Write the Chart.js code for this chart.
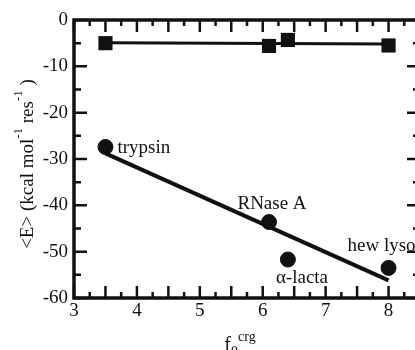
<!DOCTYPE html>
<html>
<head>
<meta charset="utf-8">
<script src="https://cdn.jsdelivr.net/npm/chart.js@4"></script>
<style>
    html, body { margin: 0; padding: 0; background: #fff; overflow: hidden; }
    #chart { display: block; }
</style>
</head>
<body>
<canvas id="chart" width="430" height="350"></canvas>
<script>
// Data
const proteins = ['trypsin', 'RNase A', '\u03b1-lacta', 'hew lysozyme'];
const fCrg = [3.5, 6.1, 6.4, 8.0];
const eSquares = [-5.0, -5.6, -4.3, -5.5];
const eCircles = [-27.4, -43.6, -51.7, -53.5];

// Fitted lines (endpoints)
const fitX = [3.5, 8.0];
const fitSquares = [-4.9, -5.2];
const fitCircles = [-28.8, -56.2];

// Axes
const xTickLabels = [3, 4, 5, 6, 7, 8];
const yTickLabels = [0, -10, -20, -30, -40, -50, -60];
const xRange = [3, 8.5];
const yRange = [-60, 0];

const FONT = '"Liberation Serif", "Times New Roman", serif';
const INK = '#111';

const toPoints = (xs, ys) => xs.map((x, i) => ({ x, y: ys[i] }));

// Label offsets relative to each circle marker
const labelOffsets = [
    { dx: 12, dy: 6, align: 'left' },
    { dx: 3, dy: -13, align: 'center' },
    { dx: -12, dy: 23, align: 'left' },
    { dx: -41, dy: -17, align: 'left' }
];

// Draw a run of text pieces with sizes and vertical shifts
function drawRich(ctx, parts, x, y, align) {
    let total = 0;
    parts.forEach(p => {
        ctx.font = p.size + 'px ' + FONT;
        p.w = ctx.measureText(p.t).width;
        total += p.w;
    });
    let cx = align === 'center' ? x - total / 2 : x;
    ctx.textAlign = 'left';
    ctx.textBaseline = 'alphabetic';
    parts.forEach(p => {
        ctx.font = p.size + 'px ' + FONT;
        ctx.fillText(p.t, cx, y + (p.dy || 0));
        cx += p.w;
    });
}

const framePlugin = {
    id: 'frame',
    afterDatasetsDraw(chart) {
        const { ctx, chartArea: a, scales: { x, y } } = chart;
        ctx.save();
        ctx.strokeStyle = INK;
        ctx.lineWidth = 2.5;
        ctx.beginPath();
        // x ticks every 0.25, longer every 0.5
        for (let v = xRange[0]; v <= xRange[1] + 1e-6; v += 0.25) {
            const px = x.getPixelForValue(v);
            const len = Math.abs(v * 2 - Math.round(v * 2)) < 1e-6 ? 12 : 6;
            ctx.moveTo(px, a.bottom); ctx.lineTo(px, a.bottom - len);
            ctx.moveTo(px, a.top); ctx.lineTo(px, a.top + len);
        }
        // y ticks every 5, longer every 10
        for (let v = yRange[0]; v <= yRange[1] + 1e-6; v += 5) {
            const py = y.getPixelForValue(v);
            const len = v % 10 === 0 ? 13 : 7;
            ctx.moveTo(a.left, py); ctx.lineTo(a.left + len, py);
            ctx.moveTo(a.right, py); ctx.lineTo(a.right - len, py);
        }
        ctx.stroke();
        ctx.lineWidth = 3.5;
        ctx.strokeRect(a.left, a.top, a.right - a.left, a.bottom - a.top);

        // protein labels next to the circles
        ctx.fillStyle = INK;
        const meta = chart.getDatasetMeta(1);
        meta.data.forEach((pt, i) => {
            const o = labelOffsets[i];
            ctx.font = '19px ' + FONT;
            ctx.textAlign = o.align;
            ctx.textBaseline = 'alphabetic';
            ctx.fillText(proteins[i], pt.x + o.dx, pt.y + o.dy);
        });

        // axis titles
        drawRich(ctx, [
            { t: 'f', size: 20 },
            { t: '0', size: 14, dy: 5 },
            { t: 'crg', size: 14, dy: -10 }
        ], 240, 351, 'center');

        ctx.translate(33, 164);
        ctx.rotate(-Math.PI / 2);
        drawRich(ctx, [
            { t: '<E> (kcal mol', size: 19 },
            { t: '-1', size: 13, dy: -11 },
            { t: ' res', size: 19 },
            { t: '-1', size: 13, dy: -11 },
            { t: ' )', size: 19 }
        ], 0, 0, 'center');
        ctx.restore();
    }
};

new Chart(document.getElementById('chart'), {
    type: 'scatter',
    data: {
        datasets: [
            {
                data: toPoints(fCrg, eSquares),
                pointStyle: 'rect',
                pointRadius: 10,
                backgroundColor: INK,
                borderColor: INK,
                borderWidth: 0,
                showLine: false,
                order: 1
            },
            {
                data: toPoints(fCrg, eCircles),
                pointStyle: 'circle',
                pointRadius: 7.5,
                backgroundColor: INK,
                borderColor: INK,
                borderWidth: 1,
                showLine: false,
                order: 1
            },
            {
                data: toPoints(fitX, fitSquares),
                showLine: true,
                pointRadius: 0,
                borderColor: INK,
                borderWidth: 3,
                order: 2
            },
            {
                data: toPoints(fitX, fitCircles),
                showLine: true,
                pointRadius: 0,
                borderColor: INK,
                borderWidth: 4,
                order: 2
            }
        ]
    },
    options: {
        responsive: false,
        animation: false,
        layout: { padding: { top: 20, right: 7, left: 0, bottom: 0 } },
        plugins: {
            legend: { display: false },
            tooltip: { enabled: false }
        },
        scales: {
            x: {
                type: 'linear',
                min: xRange[0],
                max: xRange[1],
                afterBuildTicks: s => { s.ticks = xTickLabels.map(v => ({ value: v })); },
                afterFit: s => { s.height = 52; },
                grid: { display: false, drawTicks: false },
                border: { display: false },
                ticks: { color: INK, padding: 2, maxRotation: 0, font: { family: FONT, size: 19 } }
            },
            y: {
                type: 'linear',
                min: yRange[0],
                max: yRange[1],
                afterBuildTicks: s => { s.ticks = yTickLabels.map(v => ({ value: v })); },
                afterFit: s => { s.width = 74; },
                grid: { display: false, drawTicks: false },
                border: { display: false },
                ticks: { color: INK, padding: 6, font: { family: FONT, size: 19 } }
            }
        }
    },
    plugins: [framePlugin]
});
</script>
</body>
</html>
